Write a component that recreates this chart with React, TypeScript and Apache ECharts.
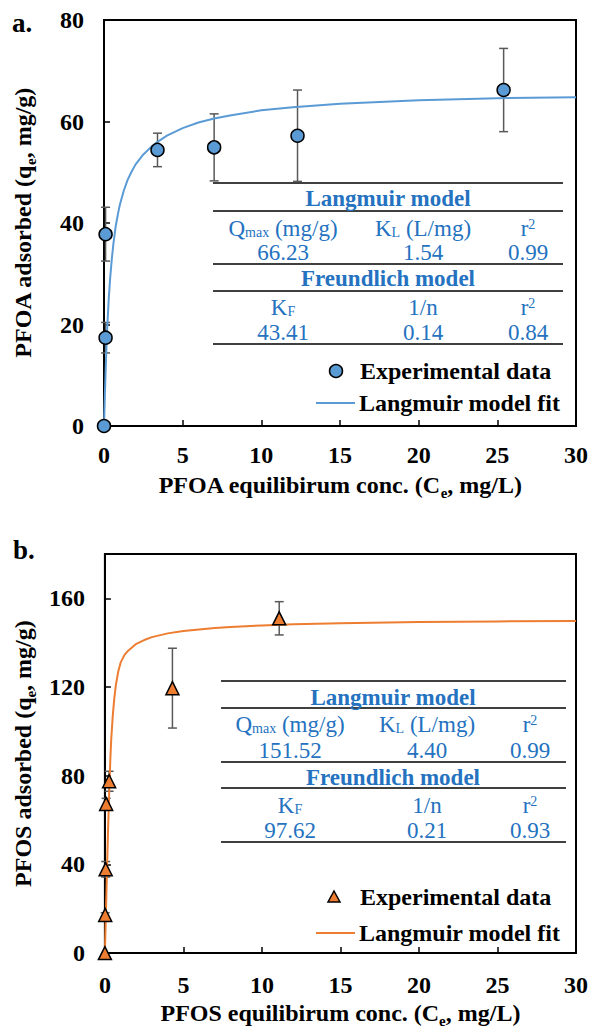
import React, { useEffect, useRef } from "react";
import * as echarts from "echarts";

// ---------- data ----------
const pfoaCe = [0, 0.1, 0.1, 3.4, 7.0, 12.3, 25.4];
const pfoaQe = [0, 17.4, 37.8, 54.4, 54.9, 57.2, 66.2];
const pfoaErr = [0, 3.0, 5.3, 3.3, 6.6, 9.0, 8.2];
const pfoaFitCe = [0, 0.05, 0.1, 0.15, 0.2, 0.3, 0.4, 0.5, 0.6, 0.75, 0.9, 1, 1.25, 1.5, 1.75, 2, 2.5, 3, 3.5, 4, 5, 6, 7, 8, 10, 12, 15, 20, 25, 30];
const pfoaFitQe = [0, 5.5, 10.5, 15, 19, 25, 29.5, 33, 36, 39.5, 42, 43.5, 46.3, 48.5, 50.1, 51.5, 53.5, 55, 56.2, 57.2, 58.7, 59.8, 60.6, 61.2, 62.2, 62.8, 63.5, 64.2, 64.6, 64.8];

const pfosCe = [0, 0.02, 0.05, 0.08, 0.27, 4.3, 11.1];
const pfosQe = [0, 17.2, 37.8, 67.3, 77.5, 119.5, 151.0];
const pfosErr = [0, 1.0, 3.5, 2.5, 4.5, 18.0, 7.5];
const pfosFitCe = [0, 0.05, 0.1, 0.15, 0.2, 0.25, 0.3, 0.35, 0.4, 0.5, 0.6, 0.7, 0.85, 1, 1.25, 1.5, 2, 2.5, 3, 4, 5, 6, 7, 8, 10, 12, 15, 20, 25, 30];
const pfosFitQe = [0, 14, 28, 42, 55, 67, 78, 88, 96, 107, 115, 121, 127, 131, 134.5, 136.5, 139.5, 141.2, 142.5, 144.2, 145.3, 146, 146.6, 147.1, 147.8, 148.3, 148.8, 149.3, 149.6, 149.8];

const pfoaLangmuir = ["66.23", "1.54", "0.99"];
const pfoaFreundlich = ["43.41", "0.14", "0.84"];
const pfosLangmuir = ["151.52", "4.40", "0.99"];
const pfosFreundlich = ["97.62", "0.21", "0.93"];

const legendLabels = ["Experimental data", "Langmuir model fit"];

// ---------- styles ----------
const FONT = "'Liberation Serif', 'Times New Roman', serif";
const BLUE = "#5b9bd5";
const ORANGE = "#ed7d31";
const TBLUE = "#2472c0";
const ERR = "#595959";

function makeAxes(gridIndex: number, yMax: number, yInterval: number, xName: string, yName: string, xNameGap: number, xLabelMargin: number) {
  const labelStyle = { fontFamily: FONT, fontSize: 24, fontWeight: "bold", color: "#000" };
  const nameStyle = {
    fontFamily: FONT, fontSize: 24, fontWeight: "bold", color: "#000", lineHeight: 30,
    rich: { s: { fontFamily: FONT, fontSize: 15, fontWeight: "bold", color: "#000", lineHeight: 15, verticalAlign: "bottom" } },
  };
  const line = { show: true, onZero: false, lineStyle: { color: "#000", width: 2 } };
  const tick = { show: true, inside: true, length: 6, lineStyle: { color: "#000", width: 1.5 } };
  return {
    x: {
      type: "value", gridIndex, min: 0, max: 30, interval: 5,
      axisLine: line, axisTick: tick, splitLine: { show: false },
      axisLabel: { ...labelStyle, margin: xLabelMargin },
      name: xName, nameLocation: "middle", nameGap: xNameGap, nameTextStyle: nameStyle,
    },
    y: {
      type: "value", gridIndex, min: 0, max: yMax, interval: yInterval,
      axisLine: line, axisTick: tick, splitLine: { show: false },
      axisLabel: { ...labelStyle, margin: 20, showMaxLabel: yMax % yInterval === 0 },
      name: yName, nameLocation: "middle", nameGap: 66, nameTextStyle: nameStyle,
    },
  };
}

function errorSeries(idx: number, ce: number[], qe: number[], err: number[]) {
  return {
    type: "custom", xAxisIndex: idx, yAxisIndex: idx, z: 1,
    data: ce.map((c, i) => [c, qe[i], err[i]]),
    encode: { x: 0, y: 1 },
    renderItem: (_p: any, api: any) => {
      const x = api.value(0), y = api.value(1), e = api.value(2);
      if (!e) return { type: "group", children: [] };
      const t = api.coord([x, y + e]);
      const b = api.coord([x, y - e]);
      const st = { stroke: ERR, lineWidth: 1.5 };
      const w = 4.5;
      return {
        type: "group",
        children: [
          { type: "line", shape: { x1: t[0], y1: t[1], x2: b[0], y2: b[1] }, style: st },
          { type: "line", shape: { x1: t[0] - w, y1: t[1], x2: t[0] + w, y2: t[1] }, style: st },
          { type: "line", shape: { x1: b[0] - w, y1: b[1], x2: b[0] + w, y2: b[1] }, style: st },
        ],
      };
    },
  };
}

const richCell = {
  a: { fontFamily: FONT, fontSize: 23, fill: TBLUE, lineHeight: 22 },
  s: { fontFamily: FONT, fontSize: 14, fill: TBLUE, lineHeight: 10, verticalAlign: "bottom" },
  p: { fontFamily: FONT, fontSize: 14, fill: TBLUE, lineHeight: 10, verticalAlign: "top" },
};

function tableGraphics(t: { x1: number; x2: number; ly: number[]; cx: number[]; tx: number; ry: number[] }, lang: string[], freund: string[]) {
  const els: any[] = [];
  t.ly.forEach((y) => els.push({ type: "line", shape: { x1: t.x1, y1: y, x2: t.x2, y2: y }, style: { stroke: "#000", lineWidth: 1.5 } }));
  const txt = (text: string, x: number, y: number, bold = false) => ({
    type: "text", x, y,
    style: { text, align: "center", verticalAlign: "middle", fontFamily: FONT, fontSize: 23, lineHeight: 22, fontWeight: bold ? "bold" : "normal", fill: TBLUE },
  });
  const rich = (text: string, x: number, y: number) => ({
    type: "text", x, y,
    style: { text, align: "center", verticalAlign: "middle", rich: richCell, fill: TBLUE, fontFamily: FONT, fontSize: 23, lineHeight: 22 },
  });
  els.push(txt("Langmuir model", t.tx, t.ry[0], true));
  els.push(rich("{a|Q}{s|max}{a| (mg/g)}", t.cx[0], t.ry[1]));
  els.push(rich("{a|K}{s|L}{a| (L/mg)}", t.cx[1], t.ry[1]));
  els.push(rich("{a|r}{p|2}", t.cx[2], t.ry[1]));
  lang.forEach((v, i) => els.push(txt(v, t.cx[i], t.ry[2])));
  els.push(txt("Freundlich model", t.tx, t.ry[3], true));
  els.push(rich("{a|K}{s|F}", t.cx[0], t.ry[4]));
  els.push(txt("1/n", t.cx[1], t.ry[4]));
  els.push(rich("{a|r}{p|2}", t.cx[2], t.ry[4]));
  freund.forEach((v, i) => els.push(txt(v, t.cx[i], t.ry[5])));
  return els;
}

function legendGraphics(y1: number, y2: number, color: string, marker: "circle" | "triangle") {
  const els: any[] = [];
  if (marker === "circle") {
    els.push({ type: "circle", shape: { cx: 336, cy: y1, r: 6.5 }, style: { fill: color, stroke: "#000", lineWidth: 1.5 } });
  } else {
    els.push({ type: "polygon", shape: { points: [[334, y1 - 6], [340, y1 + 5], [328, y1 + 5]] }, style: { fill: color, stroke: "#000", lineWidth: 1.5 } });
  }
  els.push({ type: "line", shape: { x1: 316, y1: y2, x2: 355, y2: y2 }, style: { stroke: color, lineWidth: 2 } });
  const ts = { fontFamily: FONT, fontSize: 24, fontWeight: "bold", fill: "#000", align: "left", verticalAlign: "middle" };
  els.push({ type: "text", x: 360, y: y1, style: { ...ts, text: legendLabels[0] } });
  els.push({ type: "text", x: 359, y: y2, style: { ...ts, text: legendLabels[1] } });
  return els;
}

export default function App() {
  const ref = useRef<HTMLDivElement>(null);
  useEffect(() => {
    if (!ref.current) return;
    const chart = echarts.init(ref.current, undefined, { renderer: "svg" });
    const a = makeAxes(0, 80, 20, "PFOA equilibirum conc. (C{s|e}, mg/L)", "PFOA adsorbed (q{s|e}, mg/g)", 44, 17);
    const b = makeAxes(1, 180, 40, "PFOS equilibirum conc. (C{s|e}, mg/L)", "PFOS adsorbed (q{s|e}, mg/g)", 38, 20);
    const gridStyle = { show: true, borderColor: "#000", borderWidth: 2, backgroundColor: "transparent" };
    chart.setOption({
      animation: false,
      backgroundColor: "#fff",
      grid: [
        { left: 100, top: 20, width: 477, height: 406, ...gridStyle },
        { left: 100, top: 554, width: 477, height: 408, ...gridStyle },
      ],
      xAxis: [a.x, b.x],
      yAxis: [a.y, b.y],
      series: [
        errorSeries(0, pfoaCe, pfoaQe, pfoaErr),
        {
          type: "line", xAxisIndex: 0, yAxisIndex: 0, z: 2, showSymbol: false, smooth: false,
          data: pfoaFitCe.map((c, i) => [c, pfoaFitQe[i]]), lineStyle: { color: BLUE, width: 2 }, itemStyle: { color: BLUE },
        },
        {
          type: "scatter", xAxisIndex: 0, yAxisIndex: 0, z: 3, symbol: "circle", symbolSize: 13,
          data: pfoaCe.map((c, i) => [c, pfoaQe[i]]), itemStyle: { color: BLUE, borderColor: "#000", borderWidth: 1.5, opacity: 1 },
        },
        errorSeries(1, pfosCe, pfosQe, pfosErr),
        {
          type: "line", xAxisIndex: 1, yAxisIndex: 1, z: 2, showSymbol: false, smooth: false,
          data: pfosFitCe.map((c, i) => [c, pfosFitQe[i]]), lineStyle: { color: ORANGE, width: 2 }, itemStyle: { color: ORANGE },
        },
        {
          type: "scatter", xAxisIndex: 1, yAxisIndex: 1, z: 3, symbol: "triangle", symbolSize: 13,
          data: pfosCe.map((c, i) => [c, pfosQe[i]]), itemStyle: { color: ORANGE, borderColor: "#000", borderWidth: 1.5, opacity: 1 },
        },
      ],
      graphic: [
        { type: "text", x: 12, y: 23, style: { text: "a.", fontFamily: FONT, fontSize: 27, fontWeight: "bold", fill: "#000", verticalAlign: "middle" } },
        { type: "text", x: 13, y: 550, style: { text: "b.", fontFamily: FONT, fontSize: 27, fontWeight: "bold", fill: "#000", verticalAlign: "middle" } },
        ...tableGraphics({ x1: 213, x2: 563, ly: [183, 211, 264, 291, 344], cx: [283, 423, 528], tx: 388, ry: [198, 228, 252, 278, 307, 332] }, pfoaLangmuir, pfoaFreundlich),
        ...tableGraphics({ x1: 221, x2: 566, ly: [681, 708, 762, 788, 842], cx: [290, 427, 530], tx: 393, ry: [697, 724, 750, 777, 805, 830] }, pfosLangmuir, pfosFreundlich),
        ...legendGraphics(371, 403, BLUE, "circle"),
        ...legendGraphics(897, 933, ORANGE, "triangle"),
      ],
    });
    return () => chart.dispose();
  }, []);
  return <div ref={ref} style={{ position: "absolute", left: 0, top: 0, width: 591, height: 1029 }} />;
}
